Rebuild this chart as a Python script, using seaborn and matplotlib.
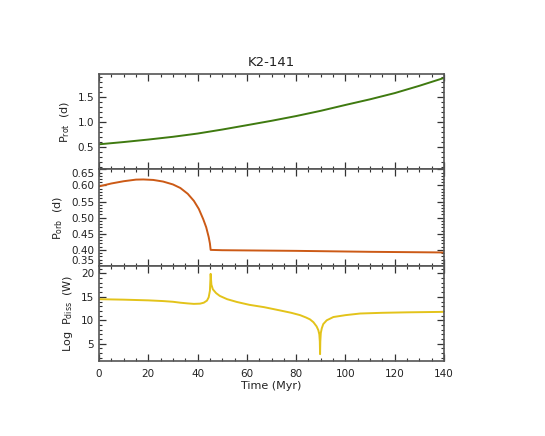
import matplotlib
matplotlib.use("Agg")
import matplotlib.pyplot as plt
import seaborn as sns
import pandas as pd
from matplotlib.ticker import MultipleLocator

# ---- data ----
t_rot = [0, 10, 20, 30, 40, 50, 60, 70, 80, 90, 100, 110, 120, 130, 140]
p_rot = [0.55, 0.595, 0.645, 0.70, 0.765, 0.845, 0.932, 1.02, 1.115, 1.22, 1.337, 1.45, 1.574, 1.72, 1.877]

t_orb = [0, 5, 10, 15, 18, 22, 26, 30, 33, 36, 38.5, 40.5, 42.3, 43.5, 44.5, 45.0, 45.3,
         50, 80, 110, 140]
p_orb = [0.597, 0.606, 0.613, 0.618, 0.6185, 0.617, 0.612, 0.603, 0.592, 0.574, 0.552,
         0.527, 0.495, 0.47, 0.44, 0.42, 0.40,
         0.399, 0.397, 0.394, 0.392]

t_diss = [0, 10, 20, 26, 30, 33, 36, 38.5, 41, 42.5, 43.8, 44.5, 45.0, 45.3, 45.6, 46.2,
          47.5, 49, 52, 56, 61, 67, 73.5, 78, 81.6, 84, 85.6, 87, 88.3, 89, 89.4, 89.6,
          89.7, 89.8, 90.0, 90.4, 91, 92.4, 95.1, 100, 106, 115, 125, 140]
p_diss = [14.5, 14.4, 14.25, 14.1, 13.95, 13.75, 13.6, 13.5, 13.55, 13.75, 14.2, 14.9,
          16.3, 19.9, 17.6, 16.6, 15.8, 15.2, 14.5, 13.9, 13.3, 12.8, 12.1, 11.6, 11.1,
          10.6, 10.2, 9.6, 8.7, 7.9, 7.0, 5.5, 2.8, 5.5, 7.3, 8.3, 9.2, 10.0, 10.7, 11.1,
          11.45, 11.6, 11.7, 11.8]

title = "K2-141"
xlabel = "Time (Myr)"
ylabels = [r"P$_{\mathrm{rot}}$  (d)", r"P$_{\mathrm{orb}}$  (d)", r"Log  P$_{\mathrm{diss}}$  (W)"]

sns.set_style("ticks")
plt.rcParams["font.family"] = ["DejaVu Sans"]
plt.rcParams["mathtext.default"] = "regular"

fig = plt.figure(figsize=(5.45, 4.36), dpi=100)
L, W = 0.1817, 0.633
ax1 = fig.add_axes([L, 0.6117, W, 0.2179])
ax2 = fig.add_axes([L, 0.3899, W, 0.2218])
ax3 = fig.add_axes([L, 0.172, W, 0.2179])

df1 = pd.DataFrame({"t": t_rot, "v": p_rot})
df2 = pd.DataFrame({"t": t_orb, "v": p_orb})
df3 = pd.DataFrame({"t": t_diss, "v": p_diss})

sns.lineplot(data=df1, x="t", y="v", ax=ax1, color="#3f7a10", lw=1.4)
sns.lineplot(data=df2, x="t", y="v", ax=ax2, color="#cc5a16", lw=1.4)
sns.lineplot(data=df3, x="t", y="v", ax=ax3, color="#e3c31a", lw=1.4)

ax1.set_ylim(0.05, 1.95)
ax2.set_ylim(0.35, 0.65)
ax3.set_ylim(1.33, 21.57)

ax1.yaxis.set_major_locator(MultipleLocator(0.5))
ax1.yaxis.set_minor_locator(MultipleLocator(0.1))
ax2.yaxis.set_major_locator(MultipleLocator(0.05))
ax2.yaxis.set_minor_locator(MultipleLocator(0.01))
ax3.yaxis.set_major_locator(MultipleLocator(5))
ax3.yaxis.set_minor_locator(MultipleLocator(1))

for ax, yl in zip([ax1, ax2, ax3], ylabels):
    ax.set_xlim(0, 140)
    ax.xaxis.set_major_locator(MultipleLocator(20))
    ax.xaxis.set_minor_locator(MultipleLocator(5))
    ax.tick_params(which="both", direction="in", top=True, right=True,
                   color="#333333", labelsize=7.5, labelcolor="#222222")
    ax.tick_params(which="major", length=5, width=0.9)
    ax.tick_params(which="minor", length=2.5, width=0.8)
    for s in ax.spines.values():
        s.set_color("#555555")
        s.set_linewidth(1.2)
    ax.set_ylabel(yl, fontsize=8, color="#222222")
    ax.set_xlabel("")

ax1.yaxis.set_major_formatter(plt.FuncFormatter(lambda v, p: f"{v:.1f}"))
ax2.yaxis.set_major_formatter(plt.FuncFormatter(lambda v, p: f"{v:.2f}"))
ax3.yaxis.set_major_formatter(plt.FuncFormatter(lambda v, p: f"{v:.0f}"))

ax1.tick_params(axis="x", labelbottom=False)
ax2.tick_params(axis="x", labelbottom=False)
ax3.tick_params(axis="x", pad=6)
ax3.set_xlabel(xlabel, fontsize=8, color="#222222", labelpad=1)
ax1.set_title(title, fontsize=9.5, color="#222222", pad=6)

fig.canvas.draw()
for lab in ax2.get_yticklabels():
    txt = lab.get_text()
    if txt == "0.65":
        lab.set_va("top")
    elif txt == "0.35":
        lab.set_va("bottom")

fig.savefig("out.png", dpi=100)
